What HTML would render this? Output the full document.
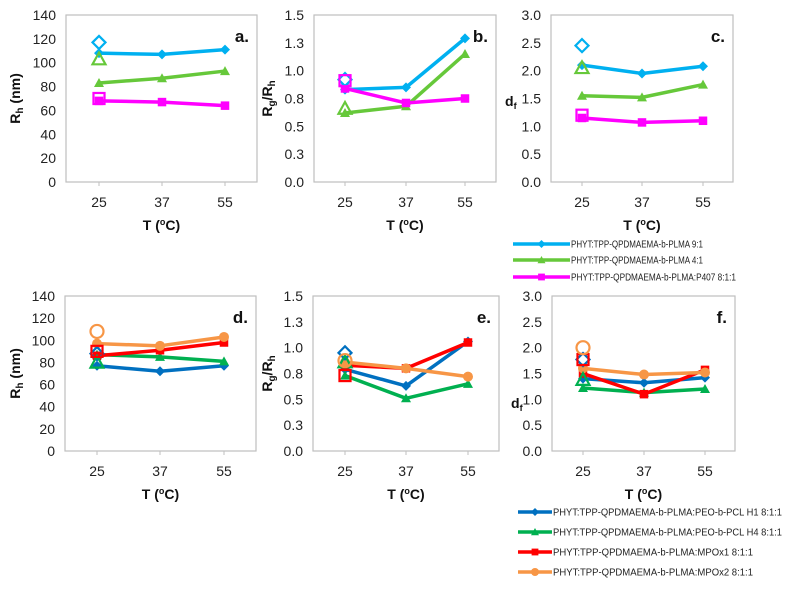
<!DOCTYPE html>
<html><head><meta charset="utf-8"><style>
body{margin:0;background:#fff;width:788px;height:588px;overflow:hidden;font-family:"Liberation Sans",sans-serif}
svg text{font-family:"Liberation Sans",sans-serif}
</style></head><body>
<svg id="chart" width="788" height="588" xmlns="http://www.w3.org/2000/svg"></svg>
<script>
const categories=[25,37,55];
const a_blue=[108,107,111], a_green=[83,87,93], a_mag=[68,67,64];
const a_open=[117,103,70];
const b_blue=[0.83,0.85,1.29], b_green=[0.62,0.68,1.15], b_mag=[0.84,0.71,0.75];
const b_open=[0.92,0.66,0.91];
const c_blue=[2.1,1.95,2.08], c_green=[1.55,1.52,1.75], c_mag=[1.15,1.07,1.1];
const c_open=[2.45,2.05,1.2];
const d_blue=[77,72,77], d_green=[87,85,81], d_red=[86,91,98], d_orange=[97,95,103];
const d_open=[88,80,90,108];
const e_blue=[0.79,0.63,1.06], e_green=[0.73,0.51,0.65], e_red=[0.83,0.8,1.05], e_orange=[0.86,0.8,0.72];
const e_open=[0.95,0.86,0.73,0.875];
const f_blue=[1.4,1.32,1.42], f_green=[1.22,1.13,1.2], f_red=[1.5,1.1,1.57], f_orange=[1.6,1.48,1.52];
const f_open=[1.77,1.38,1.77,2.0];
const tickR=[0,20,40,60,80,100,120,140];
const tickRg=["0.0","0.3","0.5","0.8","1.0","1.3","1.5"];
const tickDf=["0.0","0.5","1.0","1.5","2.0","2.5","3.0"];
const legendTop=["PHYT:TPP-QPDMAEMA-b-PLMA 9:1","PHYT:TPP-QPDMAEMA-b-PLMA 4:1","PHYT:TPP-QPDMAEMA-b-PLMA:P407 8:1:1"];
const legendBot=["PHYT:TPP-QPDMAEMA-b-PLMA:PEO-b-PCL H1 8:1:1","PHYT:TPP-QPDMAEMA-b-PLMA:PEO-b-PCL H4 8:1:1","PHYT:TPP-QPDMAEMA-b-PLMA:MPOx1 8:1:1","PHYT:TPP-QPDMAEMA-b-PLMA:MPOx2 8:1:1"];

const svg=document.getElementById('chart');
const NS='http://www.w3.org/2000/svg';
function el(t,at,parent){const e=document.createElementNS(NS,t);for(const k in at)e.setAttribute(k,at[k]);(parent||svg).appendChild(e);return e;}
const TC=['#00b0f0','#66c83a','#ff00ff'], BC=['#0070c0','#00b050','#ff0000','#f79646'];
const TS=['diamond','tri','square'], BS=['diamond','tri','square','circle'];

function marker(g,shape,x,y,col,r,open){
  const at={fill:open?'none':col,stroke:open?col:'none','stroke-width':open?2.2:0};
  let m;
  if(shape==='diamond')m=el('polygon',Object.assign({points:`${x},${y-r} ${x+r},${y} ${x},${y+r} ${x-r},${y}`},at),g);
  else if(shape==='tri')m=el('polygon',Object.assign({points:`${x},${y-r} ${x+r},${y+r*0.8} ${x-r},${y+r*0.8}`},at),g);
  else if(shape==='square')m=el('rect',Object.assign({x:x-r*0.85,y:y-r*0.85,width:r*1.7,height:r*1.7},at),g);
  else m=el('circle',Object.assign({cx:x,cy:y,r:r},at),g);
  
  
}

function panel(o){
  const g=el('g',{});
  
  
  const {x0,x1,y0,y1,max}=o;
  const X=i=>o.xt[i];
  const Y=v=>y1-(v/max)*(y1-y0);
  const box=el('rect',{x:x0,y:y0,width:x1-x0,height:y1-y0,fill:'none',stroke:'#bfbfbf','stroke-width':1.2},g);
  
  o.ticks.forEach((t,i)=>{const v=i*max/(o.ticks.length-1);
    const tx=el('text',{x:x0-10,y:Y(v)+5,'text-anchor':'end','font-size':14,fill:'#222'},g);tx.textContent=t;
    });
  categories.forEach((c,i)=>{el('line',{x1:X(i),x2:X(i),y1:y1,y2:y1+4,stroke:'#bfbfbf'},g);
    const tx=el('text',{x:X(i),y:y1+25,'text-anchor':'middle','font-size':14,fill:'#222'},g);tx.textContent=c;
    });
  const xl=el('text',{x:(x0+x1)/2,y:y1+48,'text-anchor':'middle','font-size':14,'font-weight':'bold',fill:'#111'},g);
  xl.innerHTML='T (<tspan font-size="9" dy="-5">o</tspan><tspan dy="5">C)</tspan>';
  
  let yl;
  if(o.horiz){
    yl=el('text',{x:o.ylx,y:o.yly,'text-anchor':'start','font-size':14,'font-weight':'bold',fill:'#111'},g);
  } else {
    yl=el('text',{transform:`translate(${o.ylx},${(y0+y1)/2}) rotate(-90)`,'text-anchor':'middle','font-size':14,'font-weight':'bold',fill:'#111'},g);
  }
  yl.innerHTML=o.ylabel;
  
  const lt=el('text',{x:x1-8,y:y0+27,'text-anchor':'end','font-size':17,'font-weight':'bold','font-family':'Liberation Serif',fill:'#111'},g);
  lt.textContent=o.letter+'.';
  o.series.forEach((s,k)=>{
    const pts=s.map((v,i)=>`${X(i)},${Y(v)}`).join(' ');
    const l=el('polyline',{points:pts,fill:'none',stroke:o.cols[k],'stroke-width':3.5,'stroke-linejoin':'round'},g);
    
    s.forEach((v,i)=>marker(g,o.shapes[k],X(i),Y(v),o.cols[k],5,false));
  });
  o.open.forEach((v,k)=>marker(g,o.shapes[k],X(0),Y(v),o.cols[k],6.5,true));
}
const rh='R<tspan font-size="10" dy="3">h</tspan><tspan dy="-3"> (nm)</tspan>';
const rg='R<tspan font-size="10" dy="3">g</tspan><tspan dy="-3">/R</tspan><tspan font-size="10" dy="3">h</tspan>';
const df='d<tspan font-size="9" dy="3">f</tspan>';
const topP={y0:15,y1:182}, botP={y0:296,y1:451};
panel(Object.assign({letter:'a',x0:66,x1:257,xt:[99,162,225],max:140,ticks:tickR,ylabel:rh,ylx:20,series:[a_blue,a_green,a_mag],open:a_open,cols:TC,shapes:TS},topP));
panel(Object.assign({letter:'b',x0:314,x1:496,xt:[345,406,465],max:1.5,ticks:tickRg,ylabel:rg,ylx:272,series:[b_blue,b_green,b_mag],open:b_open,cols:TC,shapes:TS},topP));
panel(Object.assign({letter:'c',x0:551,x1:733,xt:[582,642,703],max:3,ticks:tickDf,ylabel:df,horiz:true,ylx:505,yly:106,series:[c_blue,c_green,c_mag],open:c_open,cols:TC,shapes:TS},topP));
panel(Object.assign({letter:'d',x0:65,x1:256,xt:[97,160,224],max:140,ticks:tickR,ylabel:rh,ylx:20,series:[d_blue,d_green,d_red,d_orange],open:d_open,cols:BC,shapes:BS},botP));
panel(Object.assign({letter:'e',x0:313,x1:499,xt:[345,406,468],max:1.5,ticks:tickRg,ylabel:rg,ylx:272,series:[e_blue,e_green,e_red,e_orange],open:e_open,cols:BC,shapes:BS},botP));
panel(Object.assign({letter:'f',x0:552,x1:735,xt:[583,644,705],max:3,ticks:tickDf,ylabel:df,horiz:true,ylx:511,yly:408,series:[f_blue,f_green,f_red,f_orange],open:f_open,cols:BC,shapes:BS},botP));

function legend(items,cols,shapes,x,ys,lx,widths){
  items.forEach((t,i)=>{const y=ys[i];
    const g=el('g',{});
    
    el('line',{x1:x,x2:x+lx,y1:y,y2:y,stroke:cols[i],'stroke-width':3.5},g);
    marker(g,shapes[i],x+lx/2,y,cols[i],4,false);
    const tx=el('text',{x:x+lx+1,y:y+3.5,'font-size':10,fill:'#222',textLength:widths[i],lengthAdjust:'spacingAndGlyphs'},g);tx.textContent=t;});
}
legend(legendTop,TC,TS,513,[244,260,277],57,[132,132,165]);
legend(legendBot,BC,BS,518,[512,532,552,572],34,[229,229,200,200]);
</script>
</body></html>
